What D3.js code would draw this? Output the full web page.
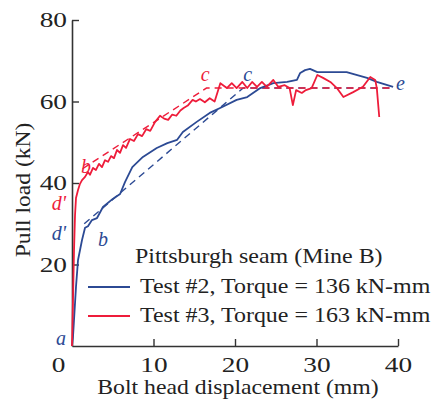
<!DOCTYPE html>
<html>
<head>
    <meta charset="utf-8">
    <script src="https://d3js.org/d3.v7.min.js"></script>
    <style>
        body { margin: 0; background: #fff; }
        text { font-family: "Liberation Serif", "Times New Roman", serif; fill: #222; }
    </style>
</head>
<body>
    <script>
        // displacement (mm), load (kN)
        var test2 = [
            [0, 0], [0.12, 2.2], [0.49, 14.5], [0.74, 21.1], [1.23, 26.0], [1.6, 29.0],
            [1.96, 29.4], [2.45, 30.9], [3.07, 31.4], [3.8, 34.1], [5.0, 36.1], [5.9, 37.3],
            [6.5, 40.2], [7.4, 43.9], [8.7, 46.4], [10.4, 48.6], [11.7, 49.8], [12.9, 50.6],
            [13.6, 52.5], [15.3, 55.0], [16.9, 57.2], [18.5, 58.7], [20.2, 60.4], [21.5, 61.1],
            [23.1, 63.3], [24.7, 64.5], [26.4, 64.8], [27.6, 65.3], [28.0, 67.0], [28.6, 67.7],
            [29.2, 68.0], [30.1, 67.2], [31.7, 67.2], [33.7, 67.2], [35.0, 66.5], [36.2, 65.8],
            [37.4, 64.8], [38.7, 64.0], [39.4, 63.6]
        ];
        var test3 = [
            [0, 0], [0.12, 11.3], [0.25, 23.6], [0.37, 32.1], [0.49, 36.3], [0.74, 38.3],
            [0.98, 39.8], [1.23, 40.7], [1.6, 41.5], [1.96, 42.7], [2.2, 42.0], [2.58, 43.7],
            [2.94, 43.2], [3.31, 44.7], [3.68, 43.9], [4.05, 45.6], [4.42, 45.2], [4.79, 46.6],
            [5.15, 46.1], [5.52, 48.1], [5.89, 47.4], [6.26, 49.3], [6.63, 48.6], [7.12, 50.8],
            [7.6, 50.3], [8.1, 52.0], [8.6, 51.5], [9.1, 53.2], [9.6, 52.8], [10.2, 55.0],
            [10.8, 56.5], [11.3, 55.8], [11.8, 55.5], [12.3, 56.8], [12.8, 56.5], [13.3, 57.8],
            [13.7, 58.4], [14.2, 59.0], [14.8, 60.4], [15.2, 60.0], [15.7, 60.6], [16.3, 59.8],
            [16.9, 60.8], [17.5, 60.0], [18.2, 64.5], [19.0, 63.3], [19.6, 64.5], [20.2, 63.3],
            [20.9, 64.8], [21.5, 63.3], [22.1, 64.8], [22.7, 63.6], [23.3, 64.8], [23.9, 63.6],
            [24.7, 65.3], [25.3, 63.6], [26.1, 64.0], [26.7, 63.3], [27.1, 59.1], [27.5, 62.8],
            [28.2, 62.1], [28.7, 62.8], [29.4, 63.3], [30.1, 66.5], [30.8, 65.8], [31.7, 64.8],
            [32.5, 63.3], [33.3, 61.1], [34.5, 62.3], [35.7, 63.6], [36.6, 66.0], [37.2, 65.3],
            [37.4, 63.3], [37.7, 56.2]
        ];
        // idealised models (dashed)
        var model2 = [[1.5, 30.0], [21.0, 63.3], [39.3, 63.3]];
        var model3 = [[1.3, 43.5], [16.5, 63.3], [39.3, 63.3]];

        var xTicks = [0, 10, 20, 30, 40];
        var yTicks = [20, 40, 60, 80];

        // point labels: text, x, y, colour
        var pointLabels = [
            ["a", 0, 0.3, "blue"], ["d'", 0, 26, "blue"], ["b", 3.2, 24.5, "blue"],
            ["d'", 0, 33.3, "red"], ["b", 1.1, 42.5, "red"],
            ["c", 15.8, 65, "red"], ["c", 21.0, 65, "blue"], ["e", 40, 62.8, "blue"]
        ];

        var blue = "#2c4a94", red = "#ee1c3a";
        var colors = {blue: blue, red: red};

        var W = 434, H = 404;
        var margin = {left: 72, top: 20, right: 36, bottom: 58};
        var width = W - margin.left - margin.right;
        var height = H - margin.top - margin.bottom;

        var svg = d3.select("body").append("svg")
            .attr("width", W)
            .attr("height", H);

        var g = svg.append("g")
            .attr("transform", "translate(" + margin.left + "," + margin.top + ")");

        var x = d3.scaleLinear().domain([0, 40]).range([0, width]);
        var y = d3.scaleLinear().domain([0, 80]).range([height, 0]);

        // the original type is set wide
        function stretch(sel, k) {
            sel.each(function () {
                var w = this.getComputedTextLength();
                d3.select(this).attr("textLength", w * k).attr("lengthAdjust", "spacingAndGlyphs");
            });
        }

        var xAxis = g.append("g")
            .attr("transform", "translate(0," + height + ")")
            .call(d3.axisBottom(x).tickValues(xTicks).tickSizeInner(-7).tickSizeOuter(0).tickPadding(11));
        var yAxis = g.append("g")
            .call(d3.axisLeft(y).tickValues(yTicks).tickSizeInner(-7).tickSizeOuter(0).tickPadding(5));

        [xAxis, yAxis].forEach(function (a) {
            a.select(".domain").attr("stroke", "#333").attr("stroke-width", 1.6);
            a.selectAll(".tick line").attr("stroke", "#333").attr("stroke-width", 1.4);
            a.selectAll(".tick text")
                .style("font-family", "Liberation Serif, serif")
                .style("font-size", "21px")
                .attr("fill", "#222")
                .call(stretch, 1.3);
        });
        xAxis.selectAll(".tick").filter(d => d === 0).select("line").remove();
        xAxis.selectAll(".tick").filter(d => d === 0).select("text").attr("dx", -14);

        var line = d3.line().x(d => x(d[0])).y(d => y(d[1]));

        g.append("path").datum(model2)
            .attr("d", line).attr("fill", "none")
            .attr("stroke", blue).attr("stroke-width", 1.4).attr("stroke-dasharray", "7,5");
        g.append("path").datum(model3)
            .attr("d", line).attr("fill", "none")
            .attr("stroke", red).attr("stroke-width", 1.4).attr("stroke-dasharray", "7,5");

        g.append("path").datum(test2)
            .attr("d", line).attr("fill", "none")
            .attr("stroke", blue).attr("stroke-width", 1.8).attr("stroke-linejoin", "round");
        g.append("path").datum(test3)
            .attr("d", line).attr("fill", "none")
            .attr("stroke", red).attr("stroke-width", 1.8).attr("stroke-linejoin", "round");

        g.selectAll(".plabel")
            .data(pointLabels)
            .enter().append("text")
            .attr("class", "plabel")
            .attr("x", d => x(d[1]))
            .attr("y", d => y(d[2]))
            .attr("dx", d => d[1] === 0 ? -6 : (d[1] === 40 ? -2 : 0))
            .attr("text-anchor", d => d[1] === 0 ? "end" : "start")
            .style("font-style", "italic")
            .style("font-size", "20px")
            .style("fill", d => colors[d[3]])
            .text(d => d[0]);

        // legend
        var leg = g.append("g");
        leg.append("text")
            .attr("x", 63).attr("y", 243)
            .style("font-size", "21px")
            .text("Pittsburgh seam (Mine B)")
            .call(stretch, 1.14);
        var legItems = [
            ["Test #2, Torque = 136 kN-mm", blue],
            ["Test #3, Torque = 163 kN-mm", red]
        ];
        legItems.forEach(function (d, i) {
            var yy = 267 + i * 29;
            leg.append("line")
                .attr("x1", 16).attr("x2", 58)
                .attr("y1", yy).attr("y2", yy)
                .attr("stroke", d[1]).attr("stroke-width", 2);
            leg.append("text")
                .attr("x", 68).attr("y", yy + 6)
                .style("font-size", "21px")
                .text(d[0])
                .call(stretch, 1.14);
        });

        // axis titles
        svg.append("text")
            .attr("x", margin.left + width / 2 + 3)
            .attr("y", 394)
            .attr("text-anchor", "middle")
            .style("font-size", "21px")
            .text("Bolt head displacement (mm)")
            .call(stretch, 1.13);
        svg.append("text")
            .attr("transform", "translate(30," + 190 + ") rotate(-90)")
            .attr("text-anchor", "middle")
            .style("font-size", "21px")
            .text("Pull load (kN)")
            .call(stretch, 1.12);
    </script>
</body>
</html>
